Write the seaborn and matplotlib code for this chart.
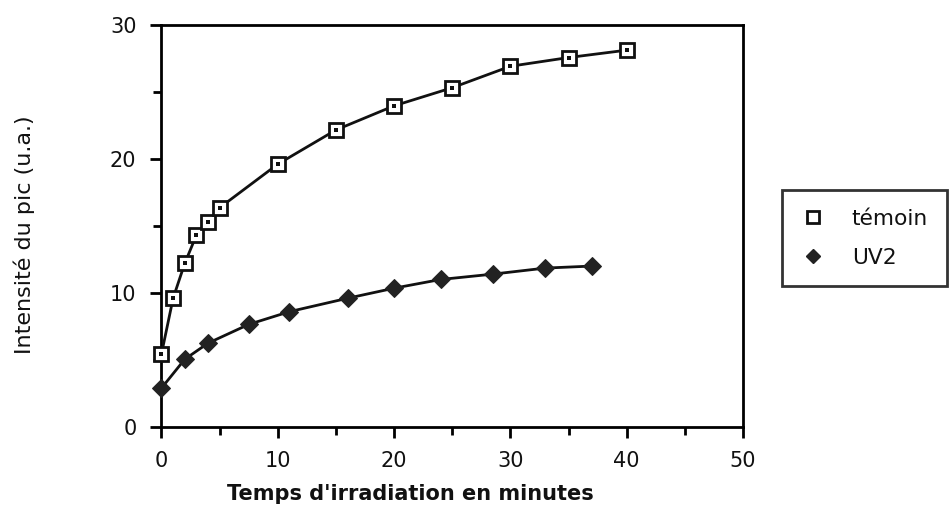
import matplotlib
matplotlib.use("Agg")
import matplotlib.pyplot as plt
from matplotlib.lines import Line2D
from matplotlib.ticker import MultipleLocator
import seaborn as sns
import pandas as pd

# Data
temoin_x = [0, 1, 2, 3, 4, 5, 10, 15, 20, 25, 30, 35, 40]
temoin_y = [5.45, 9.6, 12.2, 14.3, 15.3, 16.35, 19.6, 22.15, 23.95, 25.3, 26.9, 27.55, 28.1]
uv2_x = [0, 2, 4, 7.5, 11, 16, 20, 24, 28.5, 33, 37]
uv2_y = [2.9, 5.05, 6.25, 7.65, 8.6, 9.6, 10.35, 11.0, 11.4, 11.85, 12.0]
series_names = ["témoin", "UV2"]
x_ticks = [0, 10, 20, 30, 40, 50]
y_ticks = [0, 10, 20, 30]

sns.set_theme(style="white")
plt.rcParams["font.family"] = ["DejaVu Sans"]

fig = plt.figure(figsize=(9.51, 5.11), dpi=100)
ax = fig.add_axes([0.1698, 0.1644, 0.6115, 0.7873])

df_t = pd.DataFrame({"x": temoin_x, "y": temoin_y})
df_u = pd.DataFrame({"x": uv2_x, "y": uv2_y})

sns.lineplot(data=df_t, x="x", y="y", ax=ax, color="#111111", lw=2,
             marker="s", markersize=10, markerfacecolor="white",
             markeredgecolor="#111111", markeredgewidth=2, sort=False,
             clip_on=False, zorder=4)
sns.scatterplot(data=df_t, x="x", y="y", ax=ax, marker="s", s=6,
                color="#111111", linewidth=0, zorder=5, clip_on=False)
sns.lineplot(data=df_u, x="x", y="y", ax=ax, color="#111111", lw=2,
             marker="D", markersize=9, markerfacecolor="#222222",
             markeredgecolor="#222222", sort=False, clip_on=False, zorder=4)

ax.set_xlim(0, 50)
ax.set_ylim(0, 30)
ax.set_xticks(x_ticks)
ax.set_yticks(y_ticks)
ax.xaxis.set_minor_locator(MultipleLocator(5))
ax.yaxis.set_minor_locator(MultipleLocator(5))
ax.tick_params(axis="both", which="major", direction="out", length=8, width=2,
               color="black", labelsize=15, labelcolor="#111111",
               bottom=True, left=True)
ax.tick_params(axis="x", which="major", pad=9)
ax.tick_params(axis="y", which="major", pad=10)
ax.tick_params(axis="both", which="minor", direction="out", length=6, width=2,
               color="black", bottom=True, left=True)
for sp in ax.spines.values():
    sp.set_visible(True)
    sp.set_color("black")
    sp.set_linewidth(2)

ax.set_xlabel("Temps d'irradiation en minutes", fontsize=15, fontweight="bold",
              color="#111111")
ax.xaxis.set_label_coords(410 / 951, 1 - 484 / 511, transform=fig.transFigure)
ax.set_ylabel("Intensité du pic (u.a.)", fontsize=16, color="#111111")
ax.yaxis.set_label_coords(35 / 951, 1 - 235 / 511, transform=fig.transFigure)

handles = [
    Line2D([], [], linestyle="none", marker="s", markersize=8, markerfacecolor="white",
           markeredgecolor="#111111", markeredgewidth=2),
    Line2D([], [], linestyle="none", marker="D", markersize=7,
           markerfacecolor="#222222", markeredgecolor="#222222"),
]
leg = fig.legend(handles, series_names, loc="upper left",
                 bbox_to_anchor=(782 / 951, 1 - 190 / 511), frameon=True,
                 fontsize=15.7, handlelength=1.1, handletextpad=1.25,
                 labelspacing=0.88, borderpad=0.85, fancybox=False,
                 borderaxespad=0)
leg.get_frame().set_edgecolor("black")
leg.get_frame().set_linewidth(2)
for t in leg.get_texts():
    t.set_color("#111111")

fig.savefig("out.png", dpi=100)
